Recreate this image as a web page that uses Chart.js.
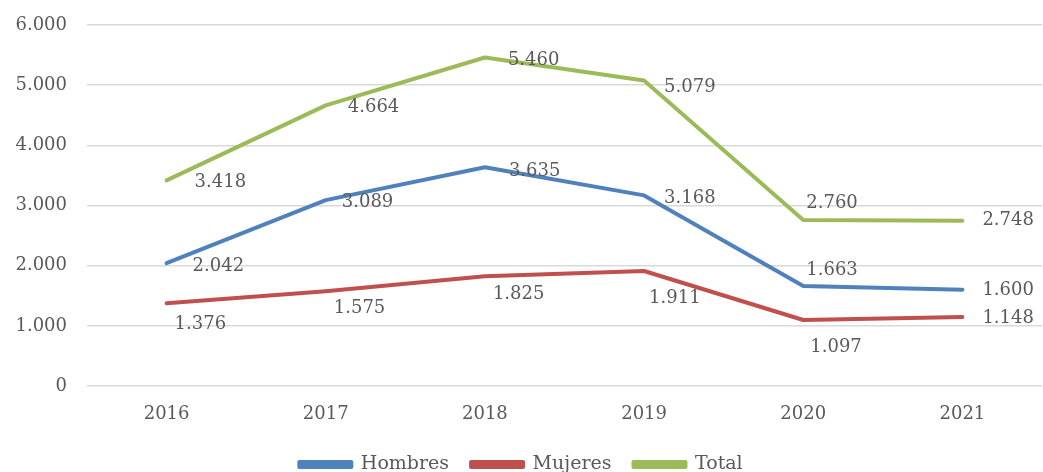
<!DOCTYPE html>
<html>
<head>
<meta charset="utf-8">
<script src="https://cdn.jsdelivr.net/npm/chart.js@4"></script>
<style>
  html, body { margin: 0; padding: 0; background: #fff; overflow: hidden; }
  #wrap { width: 1043px; height: 472px; }
</style>
</head>
<body>
<div id="wrap"><canvas id="lineChart" width="1043" height="472"></canvas></div>
<script>
const years = ["2016", "2017", "2018", "2019", "2020", "2021"];
const hombres = [2042, 3089, 3635, 3168, 1663, 1600];
const mujeres = [1376, 1575, 1825, 1911, 1097, 1148];
const total = [3418, 4664, 5460, 5079, 2760, 2748];
const yTicks = [0, 1000, 2000, 3000, 4000, 5000, 6000];

const FONT = "'DejaVu Serif', 'Liberation Serif', serif";
const TEXT = "#595959";

// where each value label sits relative to its point (dx, dy), same order as datasets
const labelOffsets = [
  [[26, 3], [16, 2], [24, 4], [20, 3], [3, -16], [20, 1]],   // Hombres
  [[8, 21], [8, 17], [8, 18], [5, 27], [7, 27], [20, 1]],    // Mujeres
  [[28, 2], [22, 2], [23, 3], [20, 7], [3, -17], [20, 0]]    // Total
];

function fmt(v) {
  return v.toLocaleString("de-DE");
}

const valueLabels = {
  id: "valueLabels",
  afterDatasetsDraw(chart) {
    const ctx = chart.ctx;
    ctx.save();
    ctx.font = "18px " + FONT;
    ctx.fillStyle = TEXT;
    ctx.textAlign = "left";
    ctx.textBaseline = "middle";
    chart.data.datasets.forEach((ds, i) => {
      const meta = chart.getDatasetMeta(i);
      meta.data.forEach((pt, j) => {
        const off = labelOffsets[i][j];
        ctx.fillText(fmt(ds.data[j]), pt.x + off[0], pt.y + off[1]);
      });
    });
    ctx.restore();
  }
};

const ctx = document.getElementById("lineChart");

new Chart(ctx, {
  type: "line",
  data: {
    labels: years,
    datasets: [
      { label: "Hombres", data: hombres, borderColor: "#4f81bd", backgroundColor: "#4f81bd" },
      { label: "Mujeres", data: mujeres, borderColor: "#c0504d", backgroundColor: "#c0504d" },
      { label: "Total", data: total, borderColor: "#9bbb59", backgroundColor: "#9bbb59" }
    ]
  },
  options: {
    responsive: false,
    animation: false,
    datasets: {
      line: { borderWidth: 4, pointRadius: 0, tension: 0, borderCapStyle: "round", borderJoinStyle: "round" }
    },
    layout: { padding: { top: 25, right: 1, left: 0, bottom: -12 } },
    scales: {
      x: {
        offset: true,
        afterFit(scale) { scale.height = 47; },
        grid: { display: false },
        border: { display: false },
        ticks: { color: TEXT, font: { family: FONT, size: 18 }, padding: 10 }
      },
      y: {
        min: 0,
        max: 6000,
        afterFit(scale) { scale.width = 87; scale.paddingTop = 0; scale.paddingBottom = 0; },
        afterBuildTicks(scale) { scale.ticks = yTicks.map(v => ({ value: v })); },
        grid: { color: "#d9d9d9", lineWidth: 1.5, drawTicks: false },
        border: { display: false },
        ticks: {
          color: TEXT,
          font: { family: FONT, size: 18 },
          padding: 20,
          callback: v => fmt(v)
        }
      }
    },
    plugins: {
      legend: {
        position: "bottom",
        labels: {
          color: TEXT,
          font: { family: FONT, size: 19 },
          boxWidth: 52,
          boxHeight: 5,
          padding: 22
        }
      },
      tooltip: { enabled: false }
    }
  },
  plugins: [valueLabels]
});
</script>
</body>
</html>
